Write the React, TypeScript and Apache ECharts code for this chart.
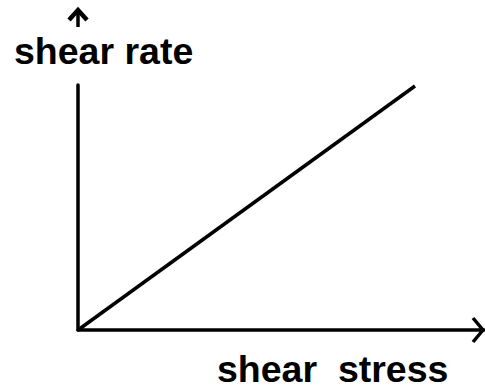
import React, { useEffect, useRef } from "react";
import * as echarts from "echarts";

// Data: a straight line through the origin (Newtonian fluid)
const shearStress = [0, 83];
const shearRate = [0, 99.6];
const xAxisTitle = "shear  stress";
const yAxisTitle = "shear rate";

const FONT = '"Liberation Sans", Arial, sans-serif';

export default function App() {
  const ref = useRef<HTMLDivElement>(null);
  useEffect(() => {
    if (!ref.current) return;
    const chart = echarts.init(ref.current, undefined, { renderer: "svg" });
    const points = shearStress.map((x, i) => [x, shearRate[i]]);
    chart.setOption({
      animation: false,
      backgroundColor: "#ffffff",
      grid: { left: 78, right: 1, top: 85, bottom: 61, containLabel: false },
      xAxis: {
        type: "value",
        min: 0,
        max: 100,
        axisLine: { show: true, onZero: false, lineStyle: { color: "#000", width: 3.5 } },
        axisTick: { show: false },
        axisLabel: { show: false },
        splitLine: { show: false },
      },
      yAxis: {
        type: "value",
        min: 0,
        max: 100,
        axisLine: { show: true, onZero: false, lineStyle: { color: "#000", width: 3.5 } },
        axisTick: { show: false },
        axisLabel: { show: false },
        splitLine: { show: false },
      },
      series: [
        {
          type: "line",
          data: points,
          showSymbol: false,
          symbol: "none",
          lineStyle: { color: "#000", width: 3.5 },
        },
      ],
      graphic: [
        {
          type: "polyline",
          shape: { points: [[473, 318], [483, 330], [473, 342]] },
          style: { stroke: "#000", lineWidth: 3.5, fill: "none" },
          z: 100,
        },
        {
          type: "line",
          shape: { x1: 78, y1: 10, x2: 78, y2: 27 },
          style: { stroke: "#000", lineWidth: 3.5 },
          z: 100,
        },
        {
          type: "polyline",
          shape: { points: [[69, 20], [78, 10], [87, 20]] },
          style: { stroke: "#000", lineWidth: 4.5, fill: "none", lineJoin: "miter" },
          z: 100,
        },
        {
          type: "text",
          x: 14,
          y: 51,
          style: {
            text: yAxisTitle,
            fill: "#000",
            font: `bold 37.5px ${FONT}`,
            align: "left",
            verticalAlign: "middle",
          },
        },
        {
          type: "text",
          x: 217,
          y: 369,
          style: {
            text: xAxisTitle,
            fill: "#000",
            font: `bold 37.5px ${FONT}`,
            align: "left",
            verticalAlign: "middle",
          },
        },
      ],
    });
    return () => chart.dispose();
  }, []);
  return <div ref={ref} style={{ width: 485, height: 391, position: "absolute", left: 0, top: 0 }} />;
}
